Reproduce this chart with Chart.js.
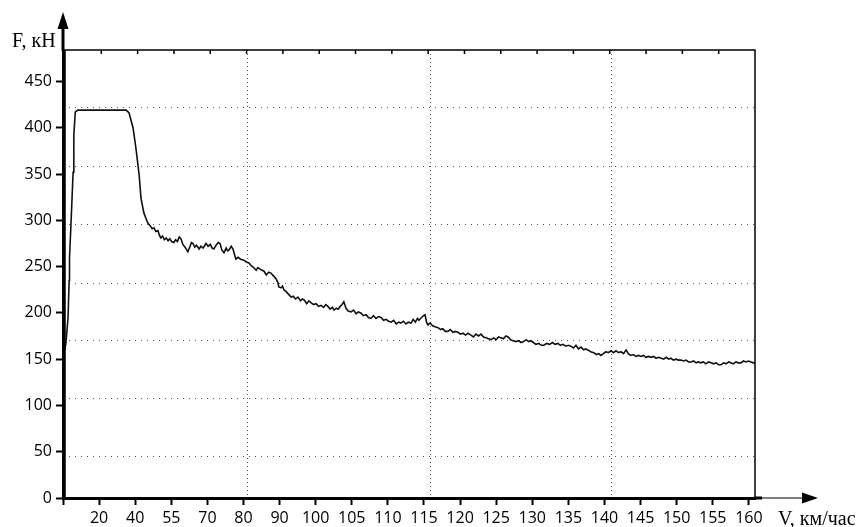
<!DOCTYPE html>
<html>
<head>
<meta charset="utf-8">
<script src="https://cdn.jsdelivr.net/npm/chart.js@4/dist/chart.umd.min.js"></script>
<style>
html,body{margin:0;padding:0;background:#fff;}
#wrap{width:861px;height:527px;position:relative;}
</style>
</head>
<body>
<div id="wrap"><canvas id="c" width="861" height="527"></canvas></div>
<script>
// Tick labels of the speed axis (km/h), placed at tick positions 1..19
const speedLabels = ['20','40','55','70','80','90','100','105','110','115','120','125','130','135','140','145','150','155','160'];
// Force axis tick values (kN)
const forceTicks = [0,50,100,150,200,250,300,350,400,450];
// Dotted reference grid (in axis units)
const gridForce = [45,108,170,232,296,358,422];
const gridPos = [5.12,10.17,15.2];

// Curve: position along the speed axis (tick units) and traction force F, kN
const posX = [0.05,0.08,0.11,0.14,0.17,0.18,0.22,0.28,0.30,0.34,0.41,1.75,1.83,1.94,2.02,2.11,2.16,2.24,2.30,2.35,2.42,2.47,2.52,2.57,2.63,2.67,2.71,2.76,2.81,2.86,2.91,2.96,3.01,3.07,3.12,3.17,3.22,3.27,3.32,3.38,3.46,3.52,3.56,3.60,3.65,3.70,3.77,3.82,3.88,3.96,4.02,4.08,4.13,4.18,4.24,4.30,4.35,4.40,4.46,4.52,4.56,4.60,4.66,4.71,4.75,4.79,4.85,4.92,5.01,5.08,5.15,5.22,5.28,5.35,5.40,5.47,5.52,5.57,5.63,5.70,5.76,5.83,5.90,5.95,5.98,6.04,6.08,6.12,6.18,6.25,6.32,6.38,6.44,6.51,6.58,6.63,6.68,6.75,6.81,6.87,6.94,7.01,7.08,7.15,7.22,7.28,7.34,7.40,7.46,7.51,7.57,7.62,7.68,7.73,7.78,7.84,7.90,7.98,8.05,8.12,8.18,8.25,8.32,8.40,8.46,8.53,8.60,8.67,8.74,8.81,8.88,8.95,9.02,9.09,9.16,9.23,9.30,9.36,9.43,9.50,9.57,9.64,9.70,9.76,9.82,9.86,9.93,9.99,10.03,10.07,10.11,10.17,10.24,10.31,10.39,10.46,10.52,10.59,10.66,10.73,10.80,10.87,10.94,11.01,11.08,11.15,11.22,11.30,11.37,11.44,11.51,11.58,11.65,11.72,11.79,11.86,11.93,12.00,12.06,12.13,12.20,12.27,12.33,12.40,12.47,12.55,12.62,12.69,12.76,12.83,12.90,12.96,13.03,13.10,13.18,13.25,13.32,13.40,13.48,13.56,13.63,13.71,13.78,13.85,13.93,14.00,14.07,14.14,14.21,14.28,14.35,14.42,14.48,14.54,14.62,14.70,14.78,14.84,14.90,14.97,15.04,15.11,15.18,15.25,15.32,15.39,15.46,15.53,15.60,15.66,15.73,15.80,15.87,15.94,16.01,16.08,16.15,16.22,16.29,16.36,16.43,16.50,16.57,16.64,16.71,16.78,16.84,16.91,16.98,17.05,17.12,17.19,17.26,17.33,17.40,17.47,17.54,17.60,17.67,17.74,17.81,17.88,17.95,18.02,18.09,18.16,18.23,18.30,18.37,18.44,18.50,18.57,18.64,18.71,18.78,18.85,18.92,18.99,19.06,19.13,19.20];
const forceKN = [160,167,181,195,235,259,295,352,392,417,419,419,416,400,378,349,324,308,302,297,294,291,292,288,289,284,281,283,279,281,278,280,277,276,279,277,282,280,274,271,266,272,276,275,271,273,269,272,270,275,272,274,270,269,273,276,275,268,265,270,267,268,272,269,263,258,260,258,257,255,254,251,249,246,249,247,246,245,241,244,243,240,237,233,228,227,229,225,223,220,217,218,215,217,213,215,214,210,213,211,209,210,207,208,206,209,207,204,206,203,205,204,207,209,212,205,202,201,203,199,201,200,197,198,195,194,197,194,196,195,192,193,191,190,192,188,190,189,191,188,190,189,193,190,194,192,195,197,198,190,187,189,186,185,184,182,183,180,180,182,179,180,179,177,178,176,178,176,174,177,175,177,174,173,172,171,173,171,174,173,172,175,174,171,170,169,170,168,169,171,169,170,168,166,167,165,165,167,166,168,166,167,165,166,164,165,164,162,165,161,163,160,161,160,158,157,155,156,154,156,158,157,159,157,159,157,158,156,160,156,154,155,153,154,153,154,152,153,152,153,151,152,151,150,152,150,151,149,150,149,149,148,149,147,147,148,146,147,146,147,145,147,146,145,146,144,144,146,145,147,146,145,147,146,146,148,147,148,147,146,146];

const points = posX.map((x,i)=>({x:x, y:forceKN[i]}));

const decor = {
  id:'decor',
  afterDraw(chart){
    const ctx = chart.ctx, a = chart.chartArea;
    ctx.save();
    ctx.strokeStyle = '#000';
    ctx.fillStyle = '#000';
    // frame
    ctx.lineWidth = 1.5;
    ctx.beginPath();
    ctx.moveTo(a.left+2, a.top); ctx.lineTo(a.right, a.top); ctx.lineTo(a.right, a.bottom);
    ctx.moveTo(a.left+2, a.top); ctx.lineTo(a.left+2, a.bottom);
    ctx.stroke();
    // top frame ticks
    const step = (a.right - a.left - 2) / 19;
    ctx.beginPath();
    for (let k=1;k<19;k++){ const px = a.left + 2 + step*k; ctx.moveTo(px, a.top); ctx.lineTo(px, a.top+4); }
    ctx.stroke();
    // y axis extension + arrow
    ctx.lineWidth = 3;
    ctx.beginPath(); ctx.moveTo(a.left, a.top+1); ctx.lineTo(a.left, 27); ctx.stroke();
    ctx.beginPath(); ctx.moveTo(a.left, 12); ctx.lineTo(a.left-5.5, 29); ctx.lineTo(a.left+5.5, 29); ctx.closePath(); ctx.fill();
    // x axis extension + arrow
    ctx.beginPath(); ctx.moveTo(a.right-1, a.bottom); ctx.lineTo(a.right+7, a.bottom); ctx.stroke();
    ctx.lineWidth = 1.2;
    ctx.beginPath(); ctx.moveTo(a.right+7, a.bottom); ctx.lineTo(a.right+50, a.bottom); ctx.stroke();
    ctx.beginPath(); ctx.moveTo(a.right+63, a.bottom); ctx.lineTo(a.right+47, a.bottom-5.5); ctx.lineTo(a.right+47, a.bottom+5.5); ctx.closePath(); ctx.fill();
    // axis titles
    ctx.font = '20px "Liberation Serif"';
    ctx.textBaseline = 'alphabetic';
    ctx.textAlign = 'left';
    ctx.fillText('F, кН', 12, 47);
    ctx.fillText('V, км/час', 778, 525);
    ctx.restore();
  }
};

new Chart(document.getElementById('c'), {
  type:'line',
  data:{ datasets:[{ data: points, borderColor:'#111', borderWidth:1.6, pointRadius:0, tension:0, fill:false }]},
  options:{
    responsive:false, animation:false, events:[],
    layout:{ padding:{ top:50, right:106, left:0, bottom:0 } },
    plugins:{ legend:{display:false}, tooltip:{enabled:false} },
    scales:{
      x:{ type:'linear', position:'bottom', min:0, max:19.17,
        afterBuildTicks: s => { s.ticks = [0].concat(speedLabels.map((_,i)=>i+1)).map(v=>({value:v})); },
        afterFit: s => { s.height = 29; },
        ticks:{ autoSkip:false, maxRotation:0, padding:4, color:'#000', font:{family:'"Open Sans"', size:16},
          callback: v => v===0 ? '' : speedLabels[v-1] },
        grid:{ drawOnChartArea:false, drawTicks:true, tickLength:7, tickWidth:2, tickColor:'#000' },
        border:{ display:true, color:'#000', width:3 } },
      xg:{ type:'linear', position:'bottom', min:0, max:19.17,
        afterBuildTicks: s => { s.ticks = gridPos.map(v=>({value:v})); },
        afterFit: s => { s.height = 0; },
        ticks:{ display:false },
        grid:{ drawTicks:false, color:'#555', lineWidth:1 },
        border:{ display:false, dash:[1,3] } },
      y:{ type:'linear', position:'left', min:0, max:484,
        afterBuildTicks: s => { s.ticks = forceTicks.map(v=>({value:v})); },
        afterFit: s => { s.width = 63; },
        ticks:{ padding:4, color:'#000', font:{family:'"Open Sans"', size:16} },
        grid:{ drawOnChartArea:false, drawTicks:true, tickLength:7, tickWidth:2, tickColor:'#000' },
        border:{ display:true, color:'#000', width:3 } },
      yg:{ type:'linear', position:'left', min:0, max:484,
        afterBuildTicks: s => { s.ticks = gridForce.map(v=>({value:v})); },
        afterFit: s => { s.width = 0; },
        ticks:{ display:false },
        grid:{ drawTicks:false, color:'#555', lineWidth:1 },
        border:{ display:false, dash:[1,5] } }
    }
  },
  plugins:[decor]
});
</script>
</body>
</html>
